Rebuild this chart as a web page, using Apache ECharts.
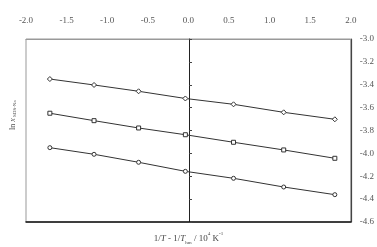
<!DOCTYPE html>
<html><head><meta charset="utf-8">
<script src="https://cdn.jsdelivr.net/npm/echarts@6/dist/echarts.min.js"></script>
<style>html,body{margin:0;padding:0;background:#fff}#c{width:377px;height:247px}</style>
</head><body><div id="c"></div>
<script>
const xValues = [-1.706, -1.162, -0.613, -0.037, 0.556, 1.174, 1.804];
const seriesTop = [-3.350, -3.402, -3.457, -3.520, -3.571, -3.641, -3.702];
const seriesMid = [-3.649, -3.714, -3.778, -3.837, -3.903, -3.970, -4.043];
const seriesBot = [-3.950, -4.008, -4.078, -4.157, -4.218, -4.294, -4.361];
const xTicks = [-2.0, -1.5, -1.0, -0.5, 0.0, 0.5, 1.0, 1.5, 2.0];
const yTicks = [-3.0, -3.2, -3.4, -3.6, -3.8, -4.0, -4.2, -4.4, -4.6];

const FONT = 'Liberation Serif';
const chart = echarts.init(document.getElementById('c'));
function pts(ys){ return xValues.map((x,i)=>[x, ys[i]]); }
function mk(name, ys, symbol, size){
  return {
    name, type:'line', data: pts(ys), symbol, symbolSize:size,
    showAllSymbol:true,
    lineStyle:{color:'#333', width:1},
    itemStyle:{color:'#fff', borderColor:'#333', borderWidth:1},
    emphasis:{disabled:true}, animation:false, z:5
  };
}
chart.setOption({
  animation:false,
  grid:{left:26, right:25, top:39, bottom:25, show:true, borderColor:'#999', borderWidth:1, backgroundColor:'transparent'},
  xAxis:[
    {type:'value', position:'top', min:xTicks[0], max:xTicks[xTicks.length-1], interval:0.5,
     axisLine:{show:true, onZero:false, lineStyle:{color:'#999', width:1}},
     axisTick:{show:false}, splitLine:{show:false},
     axisLabel:{margin:14, color:'#555', fontFamily:FONT, fontSize:9, formatter:v=>v.toFixed(1)}},
    {type:'value', position:'bottom', min:xTicks[0], max:xTicks[xTicks.length-1], interval:0.5,
     axisLine:{show:true, onZero:false, lineStyle:{color:'#111', width:1.5}},
     axisTick:{show:false}, splitLine:{show:false}, axisLabel:{show:false}}
  ],
  yAxis:[
    {type:'value', position:'right', min:yTicks[yTicks.length-1], max:yTicks[0], interval:0.2,
     axisLine:{show:true, onZero:false, lineStyle:{color:'#444', width:1.2}},
     axisTick:{show:false}, splitLine:{show:false},
     axisLabel:{margin:9, color:'#555', fontFamily:FONT, fontSize:9, padding:[0,0,16,0], formatter:v=>v.toFixed(1)}},
    {type:'value', position:'left', offset:-163, min:yTicks[yTicks.length-1], max:yTicks[0], interval:0.2,
     axisLine:{show:true, onZero:false, lineStyle:{color:'#222', width:1}},
     axisTick:{show:true, inside:true, length:3, lineStyle:{color:'#444'}},
     splitLine:{show:false}, axisLabel:{show:false}}
  ],
  series:[
    mk('top', seriesTop, 'diamond', 5),
    mk('mid', seriesMid, 'rect', 4),
    mk('bot', seriesBot, 'circle', 4)
  ],
  graphic:[
    {type:'text', left:'center', x:0, top:229, style:{
      text:'{n|1/}{i|T}{n| - 1/}{i|T}{sub|hm}{n| / 10}{sup|4}{n| K}{sup|-1}',
      rich:{
        n:{fontFamily:FONT, fontSize:9, fill:'#444', lineHeight:14, verticalAlign:'bottom'},
        i:{fontFamily:FONT, fontSize:9, fontStyle:'italic', fill:'#444', lineHeight:14, verticalAlign:'bottom'},
        sub:{fontFamily:FONT, fontSize:5, fill:'#444', lineHeight:14, verticalAlign:'bottom', padding:[0,0,-2,0]},
        sup:{fontFamily:FONT, fontSize:5, fill:'#444', lineHeight:14, verticalAlign:'top', padding:[2,0,0,0]}
      }}},
    {type:'text', x:5, y:130, rotation:Math.PI/2, style:{
      text:'{n|ln }{i|x}{sub| SDS-Na}',
      rich:{
        n:{fontFamily:FONT, fontSize:8, fill:'#555', lineHeight:12, verticalAlign:'bottom'},
        i:{fontFamily:FONT, fontSize:8, fontStyle:'italic', fill:'#555', lineHeight:12, verticalAlign:'bottom'},
        sub:{fontFamily:FONT, fontSize:5, fill:'#555', lineHeight:12, verticalAlign:'bottom'}
      }}}
  ]
});
</script>
</body></html>
